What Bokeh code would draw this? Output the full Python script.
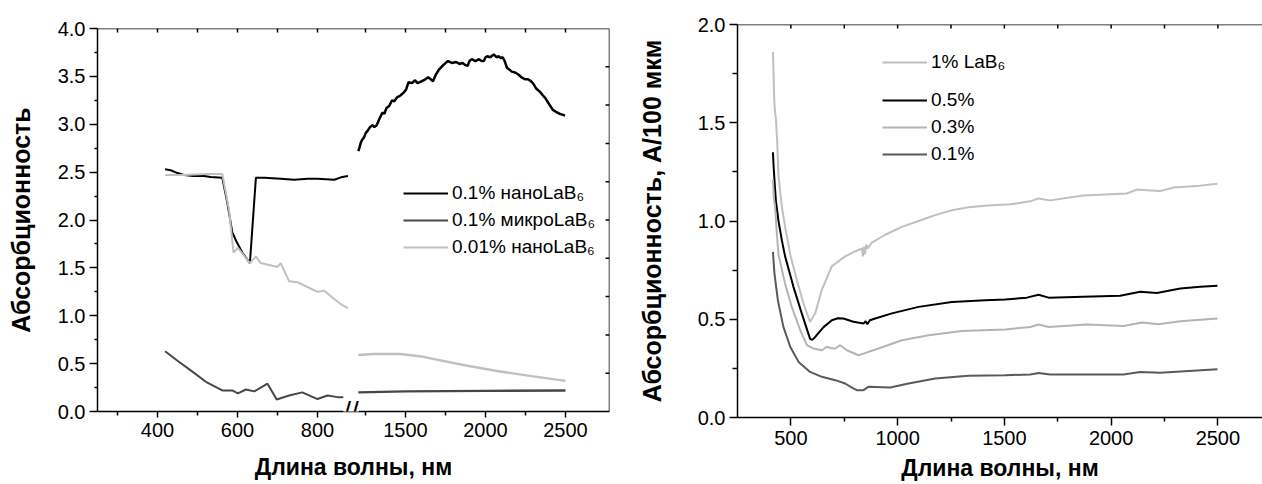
import math
from bokeh.plotting import figure
from bokeh.models import (FixedTicker, PrintfTickFormatter, Legend, LegendItem, Label, Range1d, Span)
from bokeh.layouts import row, column
from bokeh.embed import file_html
from bokeh.resources import INLINE

FONT = "Liberation Sans"

# ---------------- data: left chart (broken wavelength axis) ----------------
nano01_w_a = [419, 433, 450, 466, 490, 516, 533, 562, 575, 587, 598, 612, 631, 646, 667, 708, 742, 775, 800, 842, 862, 876]
nano01_a_a = [2.53, 2.52, 2.49, 2.47, 2.46, 2.46, 2.45, 2.44, 2.17, 1.87, 1.77, 1.66, 1.55, 2.44, 2.44, 2.43, 2.42, 2.43, 2.43, 2.42, 2.45, 2.46]
nano01_w_b = [1205, 1213, 1221, 1230, 1240, 1252, 1263, 1278, 1293, 1305, 1320, 1338, 1355, 1368, 1381, 1398, 1416,
              1430, 1447, 1468, 1488, 1503, 1519, 1540, 1560, 1575, 1590, 1615, 1642, 1657, 1672, 1690, 1709,
              1737, 1765, 1790, 1816, 1837, 1857, 1872, 1888, 1900, 1914, 1937, 1959, 1975, 1990, 2000, 2011,
              2030, 2052, 2068, 2083, 2095, 2107, 2120, 2134, 2150, 2164, 2185, 2205, 2225, 2247, 2265, 2284,
              2300, 2318, 2340, 2359, 2375, 2390, 2405, 2421, 2440, 2462, 2480, 2497]
nano01_a_b = [2.72, 2.76, 2.81, 2.84, 2.86, 2.91, 2.93, 2.97, 2.99, 2.97, 2.99, 3.06, 3.12, 3.11, 3.17, 3.19, 3.25,
              3.24, 3.28, 3.30, 3.33, 3.36, 3.44, 3.43, 3.46, 3.43, 3.44, 3.46, 3.49, 3.47, 3.45, 3.52, 3.57,
              3.62, 3.66, 3.64, 3.65, 3.63, 3.64, 3.62, 3.61, 3.66, 3.68, 3.66, 3.68, 3.66, 3.66, 3.70, 3.71,
              3.70, 3.73, 3.70, 3.71, 3.69, 3.70, 3.66, 3.59, 3.57, 3.55, 3.54, 3.52, 3.49, 3.47, 3.47, 3.45,
              3.42, 3.37, 3.34, 3.30, 3.27, 3.23, 3.19, 3.15, 3.13, 3.11, 3.10, 3.09]

micro01_w_a = [419, 450, 483, 521, 562, 587, 601, 621, 642, 675, 698, 729, 762, 800, 825, 850, 876]
micro01_a_a = [0.63, 0.53, 0.43, 0.31, 0.22, 0.22, 0.19, 0.23, 0.21, 0.29, 0.125, 0.167, 0.20, 0.13, 0.167, 0.15, 0.15]
micro01_w_b = [1205, 1500, 2000, 2500]
micro01_a_b = [0.20, 0.21, 0.215, 0.22]

nano001_w_a = [419, 466, 521, 562, 579, 590, 601, 631, 646, 658, 700, 708, 729, 750, 800, 817, 837, 862, 876]
nano001_a_a = [2.47, 2.47, 2.48, 2.48, 2.10, 1.66, 1.71, 1.55, 1.62, 1.55, 1.51, 1.55, 1.36, 1.35, 1.25, 1.26, 1.19, 1.11, 1.08]
nano001_w_b = [1205, 1300, 1467, 1600, 1672, 1878, 2082, 2288, 2500]
nano001_a_b = [0.59, 0.60, 0.60, 0.575, 0.55, 0.48, 0.42, 0.37, 0.32]

left_major = [400, 600, 800, 1500, 2000, 2500]
left_minor = [300, 500, 700, 1250, 1750, 2250]
left_labels = ["400", "600", "800", "1500", "2000", "2500"]
left_y_major = [0, 0.5, 1, 1.5, 2, 2.5, 3, 3.5, 4]
left_y_minor = [0.25, 0.75, 1.25, 1.75, 2.25, 2.75, 3.25, 3.75]
left_y_right_ticks = [0.4, 0.8, 1.2, 1.6, 2.0, 2.4, 2.8, 3.2, 3.6]

# ---------------- data: right chart ----------------
p1_w = [416, 419, 422, 426, 430, 436, 442, 458, 473, 497, 528, 559, 590, 614, 645, 692, 754, 800, 833, 837, 842, 847,
        853, 860, 879, 942, 1020, 1098, 1176, 1254, 1332, 1441, 1530, 1621, 1660, 1714, 1870, 2074, 2120, 2167,
        2230, 2292, 2417, 2498]
p1_a = [1.86, 1.75, 1.62, 1.55, 1.52, 1.40, 1.23, 1.07, 0.97, 0.83, 0.70, 0.58, 0.487, 0.53, 0.65, 0.77, 0.82, 0.845,
        0.86, 0.82, 0.87, 0.83, 0.88, 0.86, 0.89, 0.93, 0.97, 1.00, 1.03, 1.055, 1.07, 1.08, 1.085, 1.10, 1.115,
        1.105, 1.13, 1.14, 1.16, 1.157, 1.153, 1.17, 1.18, 1.19]

p05_w = [416, 419, 423, 430, 442, 458, 473, 512, 551, 575, 590, 600, 614, 653, 692, 720, 746, 793, 840, 850, 858, 870,
         895, 973, 1098, 1254, 1410, 1504, 1605, 1660, 1707, 1870, 2042, 2136, 2214, 2324, 2417, 2498]
p05_a = [1.35, 1.28, 1.21, 1.10, 1.00, 0.90, 0.82, 0.665, 0.53, 0.45, 0.40, 0.395, 0.41, 0.46, 0.495, 0.505, 0.504,
         0.487, 0.478, 0.49, 0.475, 0.495, 0.504, 0.53, 0.563, 0.588, 0.597, 0.60, 0.61, 0.625, 0.61, 0.615, 0.62,
         0.64, 0.634, 0.656, 0.665, 0.67]

p03_w = [416, 420, 426, 434, 442, 473, 505, 544, 575, 606, 645, 669, 690, 708, 731, 762, 817, 840, 910, 1020, 1145,
         1301, 1504, 1621, 1660, 1707, 1887, 2058, 2144, 2222, 2324, 2498]
p03_a = [1.21, 1.12, 1.07, 0.94, 0.83, 0.68, 0.56, 0.444, 0.368, 0.351, 0.342, 0.36, 0.352, 0.351, 0.368, 0.342,
         0.317, 0.325, 0.351, 0.393, 0.419, 0.44, 0.448, 0.461, 0.473, 0.461, 0.473, 0.466, 0.483, 0.475, 0.49, 0.504]

p01_w = [416, 423, 439, 465, 497, 536, 590, 645, 708, 754, 790, 809, 840, 863, 965, 1051, 1176, 1332, 1504, 1621,
         1660, 1714, 2058, 2136, 2230, 2498]
p01_a = [0.843, 0.733, 0.597, 0.461, 0.36, 0.283, 0.232, 0.207, 0.19, 0.173, 0.15, 0.139, 0.139, 0.156, 0.153,
         0.173, 0.198, 0.212, 0.215, 0.219, 0.227, 0.219, 0.219, 0.232, 0.228, 0.246]

right_major = [500, 1000, 1500, 2000, 2500]
right_minor = [750, 1250, 1750, 2250]
right_y_major = [0, 0.5, 1, 1.5, 2]
right_y_minor = [0.25, 0.75, 1.25, 1.75]

C_BLACK = "#000000"
C_DARK = "#474747"
C_LIGHT = "#c0c0c0"
C_LIGHT2 = "#b4b4b4"
C_DARK2 = "#5a5a5a"


def brk(ws):
    """map wavelength onto the broken axis coordinate"""
    return [w if w < 1000 else 1020 + (w - 1500) * 0.4 for w in ws]


def style_axis(ax, ticker, major_out, minor_out):
    ax.ticker = ticker
    ax.axis_line_width = 1.5
    ax.axis_line_color = "black"
    ax.major_tick_line_width = 1.5
    ax.minor_tick_line_width = 1.5
    ax.major_tick_line_color = "black"
    ax.minor_tick_line_color = "black"
    ax.major_tick_out = major_out
    ax.minor_tick_out = minor_out
    ax.major_tick_in = 0
    ax.minor_tick_in = 0
    ax.major_label_text_font = FONT
    ax.major_label_text_color = "black"
    ax.major_label_text_font_size = "20px"
    ax.axis_label_text_font = FONT
    ax.axis_label_text_font_style = "bold"
    ax.axis_label_text_color = "black"


# ================= left chart =================
LX0, LX1, LY0, LY1 = 250, 1530, 0, 4
p = figure(width=620, height=484, x_range=Range1d(LX0, LX1), y_range=Range1d(LY0, LY1),
           output_backend="svg", toolbar_location=None,
           min_border_left=97, min_border_right=11, min_border_top=28, min_border_bottom=73)
p.outline_line_color = None
p.grid.visible = False

xb = p.xaxis[0]
style_axis(xb, FixedTicker(ticks=brk(left_major), minor_ticks=brk(left_minor)), 6, 4)
xb.major_label_overrides = {int(v): s for v, s in zip(brk(left_major), left_labels)}
xb.major_label_standoff = 5
xb.axis_label = "Длина волны, нм"
xb.axis_label_text_font_size = "23px"
xb.axis_label_standoff = 14

yl = p.yaxis[0]
style_axis(yl, FixedTicker(ticks=left_y_major, minor_ticks=left_y_minor), 8, 3)
yl.formatter = PrintfTickFormatter(format="%.1f")
yl.major_label_standoff = 4
yl.axis_label = "Абсорбционность"
yl.axis_label_text_font_size = "25px"
yl.axis_label_standoff = 20

# top and right frame lines with inward ticks
p.add_layout(Span(location=LY1, dimension="width", line_color="black", line_width=1.5))
p.add_layout(Span(location=LX1, dimension="height", line_color="black", line_width=1.5))
top_ticks = brk(left_major + left_minor)
p.ray(x=top_ticks, y=[LY1] * len(top_ticks), length=4, length_units="screen",
      angle=-math.pi / 2, line_color="black", line_width=1.5)
p.ray(x=[LX1] * len(left_y_right_ticks), y=left_y_right_ticks, length=4, length_units="screen",
      angle=math.pi, line_color="black", line_width=1.5)

r_nano = p.line(brk(nano01_w_a), nano01_a_a, line_color=C_BLACK, line_width=2)
p.line(brk(nano01_w_b), nano01_a_b, line_color=C_BLACK, line_width=2.5)
r_micro = p.line(brk(micro01_w_a), micro01_a_a, line_color=C_DARK, line_width=2)
p.line(brk(micro01_w_b), micro01_a_b, line_color=C_DARK, line_width=2.4)
r_nano001 = p.line(brk(nano001_w_a), nano001_a_a, line_color=C_LIGHT, line_width=2)
p.line(brk(nano001_w_b), nano001_a_b, line_color=C_LIGHT, line_width=2.4)

# axis-break mark
p.add_layout(Label(x=884, y=0, x_units="data", y_units="data", text="//", text_align="center",
                   text_baseline="middle", text_font=FONT, text_font_size="28px",
                   background_fill_color="white", text_color="black"))

leg1 = Legend(items=[LegendItem(label="0.1% наноLaB₆", renderers=[r_nano]),
                     LegendItem(label="0.1% микроLaB₆", renderers=[r_micro]),
                     LegendItem(label="0.01% наноLaB₆", renderers=[r_nano001])],
              location=(306, 153))

# ================= right chart =================
RX0, RX1, RY0, RY1 = 250, 2709, 0, 2
q = figure(width=642, height=484, x_range=Range1d(RX0, RX1), y_range=Range1d(RY0, RY1),
           output_backend="svg", toolbar_location=None,
           min_border_left=117, min_border_right=0, min_border_top=24, min_border_bottom=67)
q.outline_line_color = None
q.grid.visible = False

qx = q.xaxis[0]
style_axis(qx, FixedTicker(ticks=right_major, minor_ticks=right_minor), 8, 4)
qx.major_label_standoff = 5
qx.axis_label = "Длина волны, нм"
qx.axis_label_text_font_size = "23px"
qx.axis_label_standoff = 7

qy = q.yaxis[0]
style_axis(qy, FixedTicker(ticks=right_y_major, minor_ticks=right_y_minor), 8, 5)
qy.formatter = PrintfTickFormatter(format="%.1f")
qy.major_label_standoff = 4
qy.axis_label = "Абсорбционность, А/100 мкм"
qy.axis_label_text_font_size = "25px"
qy.axis_label_standoff = 29

q.add_layout(Span(location=RY1, dimension="width", line_color="black", line_width=1.5))
rtop = right_major + right_minor
q.ray(x=rtop, y=[RY1] * len(rtop), length=4, length_units="screen",
      angle=-math.pi / 2, line_color="black", line_width=1.5)

s1 = q.line(p1_w, p1_a, line_color=C_LIGHT, line_width=2)
s05 = q.line(p05_w, p05_a, line_color=C_BLACK, line_width=2)
s03 = q.line(p03_w, p03_a, line_color=C_LIGHT2, line_width=2)
s01 = q.line(p01_w, p01_a, line_color=C_DARK2, line_width=2)

leg2 = Legend(items=[LegendItem(label="1% LaB₆", renderers=[s1])], location=(145, 344))
leg3 = Legend(items=[LegendItem(label="0.5%", renderers=[s05]),
                     LegendItem(label="0.3%", renderers=[s03]),
                     LegendItem(label="0.1%", renderers=[s01])], location=(145, 252))

for lg in [leg1, leg2, leg3]:
    lg.border_line_color = None
    lg.background_fill_alpha = 0
    lg.padding = 0
    lg.margin = 0
    lg.spacing = 5
    lg.glyph_width = 45
    lg.glyph_height = 20
    lg.label_height = 20
    lg.label_standoff = 4
    lg.label_text_font = FONT
    lg.label_text_font_size = "19px"
    lg.label_text_color = "black"

p.add_layout(leg1)
q.add_layout(leg2)
q.add_layout(leg3)

layout = row(column(p), column(q))
open("out.html", "w").write(file_html(layout, INLINE))
